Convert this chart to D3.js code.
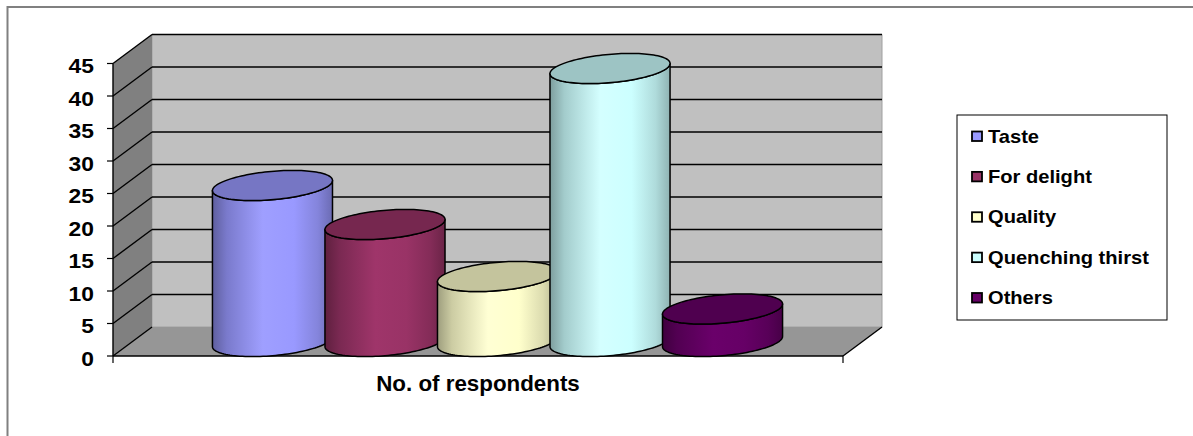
<!DOCTYPE html>
<html>
<head>
<meta charset="utf-8">
<script src="https://cdn.jsdelivr.net/npm/d3@7"></script>
<style>
  body { margin: 0; background: #fff; }
  svg { display: block; }
  text { font-family: "Liberation Sans", Arial, sans-serif; font-weight: bold; fill: #000; }
</style>
</head>
<body>
<div id="chart"></div>
<script>
const categories = ["No. of respondents"];
const series = ["Taste", "For delight", "Quality", "Quenching thirst", "Others"];
const values = [24, 18, 10, 42, 5];
const colors = ["#9999FF", "#993366", "#FFFFCC", "#CCFFFF", "#660066"];
const yTicks = [0, 5, 10, 15, 20, 25, 30, 35, 40, 45];

const width = 1193, height = 436;
const svg = d3.select("#chart").append("svg").attr("width", width).attr("height", height);

// plot box (front plane) and 3d depth offset
const x0 = 113, x1 = 843, yBase = 356, yTopPx = 63.5;
const dx = 39, dy = -29;

const y = d3.scaleLinear().domain([0, 45]).range([yBase, yTopPx]);
const xCat = d3.scaleBand().domain(categories).range([x0, x1]);
const xSer = d3.scaleBand().domain(series).range(xCat.range()).paddingOuter(0.744).paddingInner(0);

// outer frame
svg.append("rect").attr("x", 7.5).attr("y", 7).attr("width", width).attr("height", height)
    .attr("fill", "none").attr("stroke", "#808080").attr("stroke-width", 2);

const walls = svg.append("g");
const poly = pts => "M" + pts.map(p => p.join(",")).join("L") + "Z";

walls.append("path").attr("d", poly([[x0 + dx, y(45) + dy], [x1 + dx, y(45) + dy], [x1 + dx, y(0) + dy], [x0 + dx, y(0) + dy]]))
    .attr("fill", "#c0c0c0").attr("stroke", "#a0a0a0").attr("stroke-width", 1);
walls.append("path").attr("d", poly([[x0, y(0)], [x0, y(45)], [x0 + dx, y(45) + dy], [x0 + dx, y(0) + dy]]))
    .attr("fill", "#808080");
walls.append("path").attr("d", poly([[x0, y(0)], [x1, y(0)], [x1 + dx, y(0) + dy], [x0 + dx, y(0) + dy]]))
    .attr("fill", "#969696");

// gridlines on back wall + diagonals on side wall
yTicks.forEach(v => {
    if (v > 0) {
        walls.append("line").attr("x1", x0 + dx).attr("x2", x1 + dx).attr("y1", y(v) + dy).attr("y2", y(v) + dy)
            .attr("stroke", "#000").attr("stroke-width", 1.6);
    }
    walls.append("line").attr("x1", x0).attr("y1", y(v)).attr("x2", x0 + dx).attr("y2", y(v) + dy)
        .attr("stroke", "#000").attr("stroke-width", 1.4);
});
walls.append("line").attr("x1", x1).attr("y1", y(0)).attr("x2", x1 + dx).attr("y2", y(0) + dy)
    .attr("stroke", "#000").attr("stroke-width", 1.4);

// axes
const axisG = svg.append("g");
axisG.append("line").attr("x1", x0).attr("x2", x0).attr("y1", y(0)).attr("y2", y(45)).attr("stroke", "#000").attr("stroke-width", 1.4);
axisG.append("line").attr("x1", x0).attr("x2", x1).attr("y1", y(0)).attr("y2", y(0)).attr("stroke", "#000").attr("stroke-width", 1.6);
yTicks.forEach(v => {
    axisG.append("line").attr("x1", x0 - 6).attr("x2", x0).attr("y1", y(v)).attr("y2", y(v)).attr("stroke", "#000").attr("stroke-width", 1.2);
    axisG.append("text").attr("transform", `translate(94,${y(v) + 2.5}) scale(1.17,1)`)
        .attr("text-anchor", "end").attr("dy", "0.36em").style("font-size", "19.5px").text(v);
});
[x0, x1].forEach(xx => {
    axisG.append("line").attr("x1", xx).attr("x2", xx).attr("y1", y(0)).attr("y2", y(0) + 7).attr("stroke", "#000").attr("stroke-width", 1.2);
});
axisG.append("text").attr("transform", `translate(${xCat(categories[0]) + xCat.bandwidth() / 2},391) scale(1.04,1)`)
    .attr("text-anchor", "middle").style("font-size", "21.5px").text(categories[0]);

// cylinders
const defs = svg.append("defs");
const r = 56.5, ex = dx * 0.52, ey = dy * 0.52;
const th0 = Math.atan2(ex, r);
const line = d3.line();
const ellPt = (cx, cy, t) => [cx + r * Math.cos(t) + ex * Math.sin(t), cy + ey * Math.sin(t)];

const stops = [[0, 0.62], [0.12, 0.8], [0.42, 1.04], [0.68, 1.0], [0.88, 0.86], [1, 0.7]];

const cyl = svg.append("g");
series.forEach((s, i) => {
    const base = d3.rgb(colors[i]);
    const shade = k => d3.rgb(Math.min(255, base.r * k), Math.min(255, base.g * k), Math.min(255, base.b * k)).formatHex();
    const grad = defs.append("linearGradient").attr("id", "g" + i).attr("x1", 0).attr("x2", 1).attr("y1", 0).attr("y2", 0);
    stops.forEach(([o, k]) => grad.append("stop").attr("offset", o).attr("stop-color", shade(k)));

    const cx = xSer(s) + xSer.bandwidth() / 2 + dx / 2;
    const cyTop = y(values[i]) + dy / 2;
    const cyBot = y(0) + dy / 2;
    const n = 60;
    const front = d3.range(n + 1).map(j => th0 + Math.PI + Math.PI * j / n);
    const body = front.map(t => ellPt(cx, cyTop, t)).concat(front.slice().reverse().map(t => ellPt(cx, cyBot, t)));
    cyl.append("path").attr("d", line(body) + "Z").attr("fill", `url(#g${i})`)
        .attr("stroke", "#000").attr("stroke-width", 1.5).attr("stroke-linejoin", "round");
    const top = d3.range(2 * n).map(j => ellPt(cx, cyTop, 2 * Math.PI * j / (2 * n)));
    cyl.append("path").attr("d", line(top) + "Z").attr("fill", shade(0.77))
        .attr("stroke", "#000").attr("stroke-width", 1.5);
});

// legend
const leg = svg.append("g");
leg.append("rect").attr("x", 957).attr("y", 115).attr("width", 210).attr("height", 205)
    .attr("fill", "#fff").attr("stroke", "#000").attr("stroke-width", 1);
const legY = d3.scalePoint().domain(series).range([142.5, 304]);
series.forEach((s, i) => {
    leg.append("rect").attr("x", 972).attr("y", legY(s) - 11).attr("width", 10).attr("height", 9.5)
        .attr("fill", colors[i]).attr("stroke", "#000").attr("stroke-width", 1.8);
    leg.append("text").attr("transform", `translate(988,${legY(s)}) scale(1.15,1)`)
        .style("font-size", "17.5px").text(s);
});
</script>
</body>
</html>
